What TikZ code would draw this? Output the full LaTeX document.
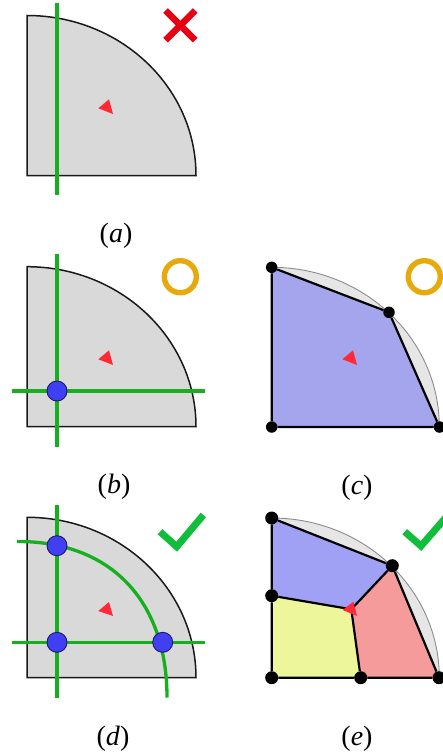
\documentclass[tikz,border=0pt]{standalone}
\usepackage{fontspec}
\setmainfont{Liberation Serif}
\usetikzlibrary{backgrounds}
\definecolor{gfill}{HTML}{D9D9D9}
\definecolor{lgfill}{HTML}{E6E6E6}
\definecolor{gline}{HTML}{14B01E}
\definecolor{ckgreen}{HTML}{10BE3C}
\definecolor{dotblue}{HTML}{4040F2}
\definecolor{dotedge}{HTML}{1A1A66}
\definecolor{tri}{HTML}{FF2A35}
\definecolor{crossred}{HTML}{E60012}
\definecolor{ringor}{HTML}{E8A90C}
\definecolor{mblue}{HTML}{A5A5EE}
\definecolor{mblueb}{HTML}{A0A0F5}
\definecolor{myellow}{HTML}{EEF69C}
\definecolor{mred}{HTML}{F59B9B}
\tikzset{
  x=1pt,y=-1pt,
  panel/.style={fill=gfill,draw=black!90,line width=1.5pt,line join=miter},
  ghost/.style={fill=lgfill,draw=black!45,line width=.9pt},
  gcut/.style={draw=gline,line width=3.3pt},
  redtri/.style={fill=tri,draw=none},
  xmark/.style={draw=crossred,line width=6.5pt},
  ringmark/.style={draw=ringor,line width=5.4pt,fill=none},
  tickmark/.style={draw=ckgreen,line width=7pt,miter limit=10},
  ptdot/.style={circle,fill=dotblue,draw=dotedge,line width=.9pt,minimum size=20pt,inner sep=0pt},
  nd/.style={circle,fill=black,draw=none,minimum size=11.5pt,inner sep=0pt},
  nde/.style={nd,minimum size=13pt},
  meshedge/.style={draw=black,line width=2.2pt},
  captext/.style={font=\fontsize{28}{30}\selectfont,inner sep=0pt}
}
\newcommand{\quarter}[2]{(27,#1) -- (27,#2) -- (196,#2) .. controls (196,{#2-0.5523*(#2-#1)}) and ({27+0.5523*169},#1) .. (27,#1) -- cycle}
\newcommand{\qmesh}[2]{(271.7,#1) -- (271.7,#2) -- (439.3,#2) .. controls (439.3,{#2-0.5523*(#2-#1)}) and ({271.7+0.5523*167.6},#1) .. (271.7,#1) -- cycle}
\begin{document}
\begin{tikzpicture}
\useasboundingbox (0,0) rectangle (443,755);
% --- panel a
\draw[panel] \quarter{15.5}{175.5};
\coordinate (a1) at (57,3); \coordinate (a2) at (57,195);
\draw[gcut] (a1) -- (a2);
\fill[redtri] (98.3,108.3) -- (109,99.3) -- (113,114) -- cycle;
\coordinate (x1) at (165.5,10.5); \coordinate (x2) at (195.2,40.2);
\coordinate (x3) at (195.2,10.5); \coordinate (x4) at (165.5,40.2);
\draw[xmark] (x1) -- (x2) (x3) -- (x4);
\node[captext] (la) at (116,236) {(\textit{a})};
% --- panel b
\draw[panel] \quarter{266.7}{426.7};
\coordinate (b1) at (57,254); \coordinate (b2) at (57,446.7);
\coordinate (b3) at (12,391); \coordinate (b4) at (205,391);
\draw[gcut] (b1) -- (b2) (b3) -- (b4);
\node[ptdot] (bp) at (57,391) {};
\fill[redtri] (98.3,359.3) -- (109,350.3) -- (113,365) -- cycle;
\draw[ringmark] (180.3,276.7) circle (16);
\node[captext] (lb) at (114,487) {(\textit{b})};
% --- panel c
\node[nd] (c1) at (271.7,267.3) {};
\node[nd] (c2) at (389,312.3) {};
\node[nd] (c3) at (439.5,427) {};
\node[nd] (c4) at (271.7,427) {};
\begin{scope}[on background layer]
\draw[ghost] \qmesh{267.3}{427};
\fill[mblue] (c1.center) -- (c2.center) -- (c3.center) -- (c4.center) -- cycle;
\draw[meshedge] (c1) -- (c2) -- (c3) -- (c4) -- (c1);
\end{scope}
\fill[redtri] (342.3,359.3) -- (353,350.3) -- (357,365) -- cycle;
\draw[ringmark] (424.3,276.7) circle (16);
\node[captext] (lc) at (357,488) {(\textit{c})};
% --- panel d
\draw[panel] \quarter{517.3}{677.7};
\coordinate (d1) at (57,505); \coordinate (d2) at (57,697.5);
\coordinate (d3) at (12,642.3); \coordinate (d4) at (205,642.3);
\coordinate (d5) at (17,541.5); \coordinate (d6) at (167,697.5);
\draw[gcut] (d1) -- (d2) (d3) -- (d4);
\draw[gcut] (d5) .. controls (110,541) and (167,600) .. (d6);
\node[ptdot] (dp1) at (57,545.7) {};
\node[ptdot] (dp2) at (57,642.3) {};
\node[ptdot] (dp3) at (162.7,642.3) {};
\fill[redtri] (98.3,611) -- (109,602) -- (113,616) -- cycle;
\coordinate (t1) at (160,531.7); \coordinate (t2) at (176.7,546.7); \coordinate (t3) at (203.3,515);
\draw[tickmark] (t1) -- (t2) -- (t3);
\node[captext] (ld) at (113,739) {(\textit{d})};
% --- panel e
\node[nde] (e1) at (271.7,518) {};
\node[nde] (e2) at (392.3,565.7) {};
\node[nde] (e3) at (439,677.7) {};
\node[nde] (e4) at (360.7,677.7) {};
\node[nde] (e5) at (271.7,595.7) {};
\node[nde] (e6) at (271.7,677.7) {};
\coordinate (e7) at (351.3,609.3);
\begin{scope}[on background layer]
\draw[ghost] \qmesh{518}{677.7};
\fill[mblueb] (e1.center) -- (e2.center) -- (e7) -- (e5.center) -- cycle;
\fill[mred] (e2.center) -- (e3.center) -- (e4.center) -- (e7) -- cycle;
\fill[myellow] (e5.center) -- (e7) -- (e4.center) -- (e6.center) -- cycle;
\draw[meshedge] (e1) -- (e2) -- (e3) -- (e4) -- (e6) -- (e5) -- (e1);
\draw[meshedge] (e2) -- (e7) -- (e4);
\draw[meshedge] (e5) -- (e7);
\end{scope}
\fill[redtri] (342.7,610) -- (353.3,601.7) -- (357,616) -- cycle;
\coordinate (u1) at (404.7,531.7); \coordinate (u2) at (421,546); \coordinate (u3) at (448,515);
\draw[tickmark] (u1) -- (u2) -- (u3);
\node[captext] (le) at (357,739) {(\textit{e})};
\end{tikzpicture}
\end{document}
